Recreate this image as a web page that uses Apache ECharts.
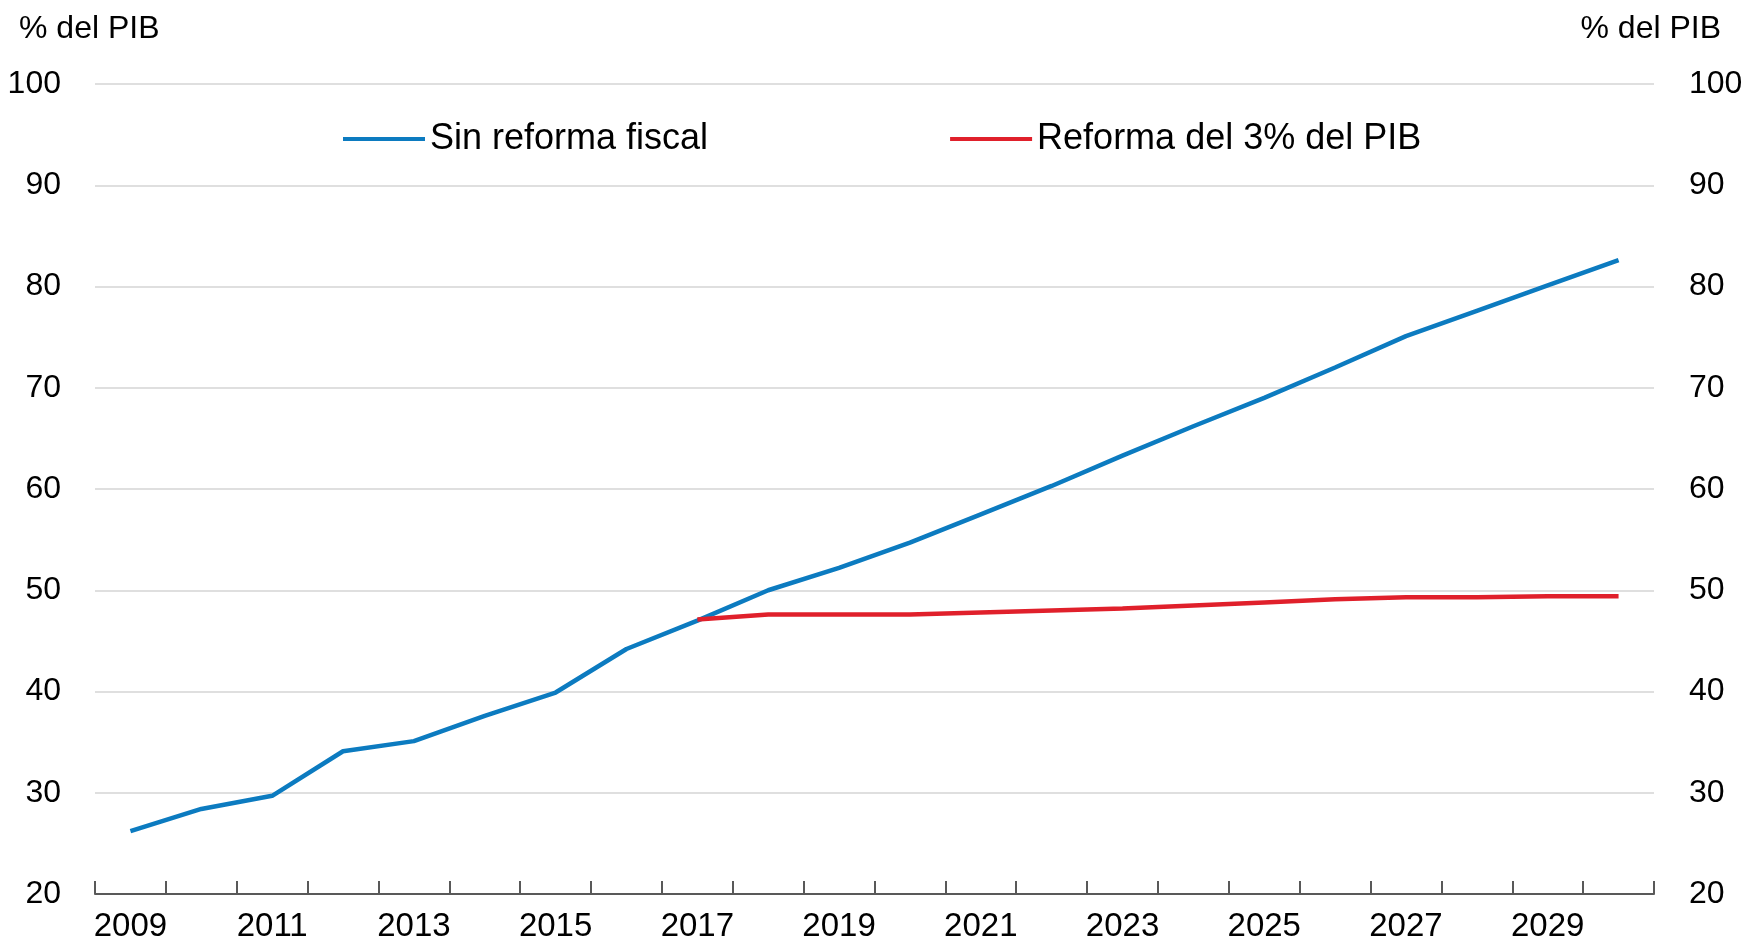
<!DOCTYPE html>
<html>
<head>
<meta charset="utf-8">
<script src="https://cdn.jsdelivr.net/npm/echarts@6/dist/echarts.min.js"></script>
<style>
    html, body { margin: 0; padding: 0; background: #fff; }
    #main { width: 1746px; height: 943px; }
</style>
</head>
<body>
<div id="main"></div>
<script>
// datos (% del PIB)
var years = ['2009', '2010', '2011', '2012', '2013', '2014', '2015', '2016', '2017', '2018', '2019',
    '2020', '2021', '2022', '2023', '2024', '2025', '2026', '2027', '2028', '2029', '2030'];
var sinReforma = [26.2, 28.4, 29.7, 34.1, 35.1, 37.6, 39.9, 44.2, 47.0, 50.0, 52.2,
    54.7, 57.5, 60.3, 63.3, 66.2, 69.0, 72.0, 75.1, 77.6, 80.1, 82.6];
var reforma3 = [null, null, null, null, null, null, null, null, 47.1, 47.6, 47.6,
    47.6, 47.8, 48.0, 48.2, 48.5, 48.8, 49.1, 49.3, 49.3, 49.4, 49.4];
var yTicks = [20, 30, 40, 50, 60, 70, 80, 90, 100];

var font = 'Liberation Sans, Arial, sans-serif';
var blue = '#0C7BC0';
var red = '#E0202B';

var myChart = echarts.init(document.getElementById('main'));
var option = {
    animation: false,
    title: [
        {
            text: '% del PIB',
            left: 14,
            top: 8,
            textStyle: {fontFamily: font, fontSize: 32, fontWeight: 'normal', color: '#000'}
        },
        {
            text: '% del PIB',
            right: 20,
            top: 8,
            textStyle: {fontFamily: font, fontSize: 32, fontWeight: 'normal', color: '#000'}
        }
    ],
    legend: {
        left: 338,
        top: 116,
        icon: 'rect',
        itemWidth: 82,
        itemHeight: 4,
        itemGap: 242,
        textStyle: {fontFamily: font, fontSize: 36, color: '#000'},
        data: ['Sin reforma fiscal', 'Reforma del 3% del PIB']
    },
    grid: {
        left: 95,
        right: 92,
        top: 84,
        bottom: 46
    },
    xAxis: {
        type: 'category',
        boundaryGap: true,
        data: years,
        axisLine: {lineStyle: {color: '#595959', width: 2}},
        axisTick: {
            show: true,
            inside: true,
            length: 13,
            interval: 0,
            lineStyle: {color: '#595959', width: 2}
        },
        axisLabel: {
            interval: 1,
            margin: 16,
            fontFamily: font,
            fontSize: 33,
            color: '#000'
        }
    },
    yAxis: [
        {
            type: 'value',
            min: yTicks[0],
            max: yTicks[yTicks.length - 1],
            interval: 10,
            axisLine: {show: false},
            axisTick: {show: false},
            axisLabel: {margin: 34, fontFamily: font, fontSize: 32, color: '#000'},
            splitLine: {lineStyle: {color: '#d4d4d4', width: 1.5}}
        },
        {
            type: 'value',
            position: 'right',
            min: yTicks[0],
            max: yTicks[yTicks.length - 1],
            interval: 10,
            axisLine: {show: false},
            axisTick: {show: false},
            axisLabel: {margin: 35, fontFamily: font, fontSize: 32, color: '#000'},
            splitLine: {show: false}
        }
    ],
    series: [
        {
            name: 'Sin reforma fiscal',
            type: 'line',
            data: sinReforma,
            showSymbol: false,
            color: blue,
            lineStyle: {color: blue, width: 4.5}
        },
        {
            name: 'Reforma del 3% del PIB',
            type: 'line',
            data: reforma3,
            showSymbol: false,
            color: red,
            lineStyle: {color: red, width: 4.5}
        }
    ]
};
myChart.setOption(option);
</script>
</body>
</html>
